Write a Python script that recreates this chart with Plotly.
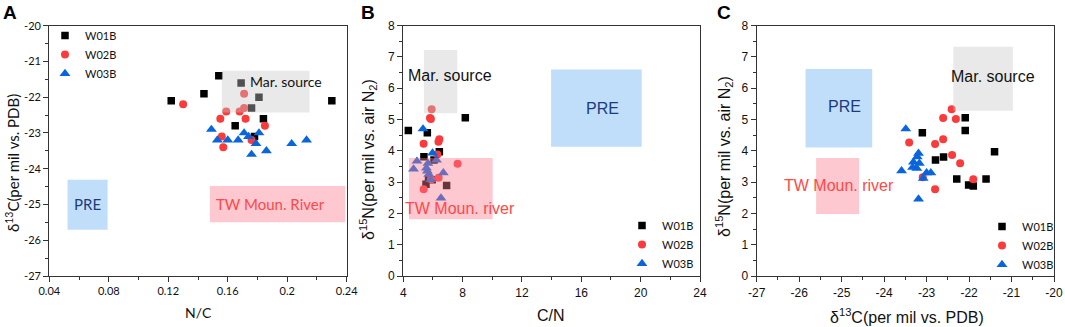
import plotly.graph_objects as go

# ---------------- data ----------------
# Panel A : N/C vs d13C
A_W01B_nc = [0.122, 0.144, 0.154, 0.169, 0.181, 0.176, 0.184, 0.165, 0.178, 0.230]
A_W01B_d13c = [-22.1, -21.9, -21.4, -21.6, -22.0, -22.3, -22.6, -22.8, -23.1, -22.1]
A_W02B_nc = [0.130, 0.171, 0.171, 0.168, 0.159, 0.155, 0.172, 0.185, 0.156, 0.176, 0.157]
A_W02B_d13c = [-22.2, -21.9, -22.3, -22.4, -22.4, -22.6, -22.6, -22.8, -23.1, -23.2, -23.4]
A_W03B_nc = [0.149, 0.153, 0.160, 0.167, 0.171, 0.174, 0.179, 0.181, 0.176, 0.186, 0.203, 0.213]
A_W03B_d13c = [-22.9, -23.2, -23.2, -23.2, -23.0, -23.1, -23.3, -23.0, -23.6, -23.5, -23.3, -23.2]

# Panel B : C/N vs d15N
B_W01B_cn = [8.18, 6.92, 6.43, 5.95, 5.53, 5.70, 5.39, 6.07, 5.62, 4.34]
B_W01B_d15n = [5.06, 2.89, 3.97, 3.08, 2.93, 3.10, 3.81, 3.71, 4.58, 4.65]
B_W02B_cn = [5.91, 5.80, 5.86, 5.37, 6.43, 6.37, 7.66, 6.30, 5.87, 5.37, 6.38]
B_W02B_d15n = [5.33, 5.05, 5.02, 4.23, 4.37, 4.29, 3.59, 3.88, 3.09, 2.77, 3.14]
B_W03B_cn = [5.33, 5.97, 6.24, 4.92, 4.69, 5.56, 5.62, 5.72, 5.86, 6.70, 6.54, 5.66]
B_W03B_d15n = [4.70, 3.93, 3.70, 3.67, 3.42, 3.45, 3.35, 3.25, 3.08, 3.30, 2.49, 3.60]

# Panel C : d13C vs d15N
C_W01B_d13c = [-23.10, -22.79, -22.60, -22.09, -22.09, -21.40, -22.29, -22.01, -21.90, -21.60]
C_W01B_d15n = [4.58, 3.71, 3.80, 5.06, 4.65, 3.97, 3.10, 2.91, 2.88, 3.10]
C_W02B_d13c = [-22.41, -22.61, -22.31, -23.41, -22.61, -22.80, -22.40, -22.21, -21.90, -22.80, -23.09]
C_W02B_d15n = [5.33, 5.05, 5.02, 4.27, 4.37, 4.22, 3.87, 3.60, 3.09, 2.77, 3.16]
C_W03B_d13c = [-23.49, -23.19, -23.22, -23.31, -23.17, -23.23, -23.33, -23.59, -23.00, -22.90, -23.08, -23.19]
C_W03B_d15n = [4.70, 3.92, 3.81, 3.64, 3.60, 3.44, 3.47, 3.36, 3.30, 3.30, 3.12, 2.46]

series_names = ["W01B", "W02B", "W03B"]

# source regions: (x0, x1, y0, y1)
A_regions = {"Mar": (0.156, 0.215, -22.43, -21.26), "PRE": (0.0523, 0.0792, -25.71, -24.31),
             "TW": (0.148, 0.239, -25.50, -24.48)}
B_regions = {"Mar": (5.39, 7.64, 5.20, 7.22), "PRE": (13.96, 20.07, 4.13, 6.60),
             "TW": (4.38, 10.02, 1.81, 3.77)}
C_regions = {"Mar": (-22.37, -20.97, 5.28, 7.33), "PRE": (-25.85, -24.28, 4.11, 6.62),
             "TW": (-25.60, -24.59, 1.98, 3.77)}

# tick labels
A_xticks = [0.04, 0.08, 0.12, 0.16, 0.2, 0.24]
A_xlabels = ["0.04", "0.08", "0.12", "0.16", "0.2", "0.24"]
A_yticks = [-27, -26, -25, -24, -23, -22, -21, -20]
A_ylabels = ["-27", "-26", "-25", "-24", "-23", "-22", "-21", "-20"]
B_xticks = [4, 8, 12, 16, 20, 24]
B_xlabels = ["4", "8", "12", "16", "20", "24"]
N_yticks = [0, 1, 2, 3, 4, 5, 6, 7, 8]
N_ylabels = ["0", "1", "2", "3", "4", "5", "6", "7", "8"]
C_xticks = [-27, -26, -25, -24, -23, -22, -21, -20]
C_xlabels = ["-27", "-26", "-25", "-24", "-23", "-22", "-21", "-20"]

# ---------------- styling ----------------
COL = {"W01B": "#000000", "W02B": "#fb3b3b", "W03B": "#0865dc"}
SYM = {"W01B": "square", "W02B": "circle", "W03B": "triangle-up"}
SIZE = {"W01B": 7.5, "W02B": 8, "W03B": 9.5}
FILL = {"Mar": "rgba(200,200,200,0.40)", "PRE": "rgba(130,190,245,0.50)",
        "TW": "rgba(250,125,140,0.42)"}
ARIAL = "Liberation Sans, Arial, sans-serif"
CALI = "Lato, Open Sans, sans-serif"

W, H = 1065, 327
ytop, ybot = 25.7, 276.0
ydom = [(H - ybot) / H, (H - ytop) / H]
doms = {"A": [49.3 / W, 346.7 / W], "B": [403.3 / W, 700.0 / W], "C": [756.7 / W, 1054.0 / W]}

fig = go.Figure()

panels = [
    ("A", "x", "y", "legend",
     [(A_W01B_nc, A_W01B_d13c), (A_W02B_nc, A_W02B_d13c), (A_W03B_nc, A_W03B_d13c)]),
    ("B", "x2", "y2", "legend2",
     [(B_W01B_cn, B_W01B_d15n), (B_W02B_cn, B_W02B_d15n), (B_W03B_cn, B_W03B_d15n)]),
    ("C", "x3", "y3", "legend3",
     [(C_W01B_d13c, C_W01B_d15n), (C_W02B_d13c, C_W02B_d15n), (C_W03B_d13c, C_W03B_d15n)]),
]
for key, xa, ya, lg, data in panels:
    for name, (xs, ys) in zip(series_names, data):
        fig.add_trace(go.Scatter(
            x=xs, y=ys, mode="markers", name=name, xaxis=xa, yaxis=ya, legend=lg,
            marker=dict(symbol=SYM[name], color=COL[name], size=SIZE[name], line=dict(width=0)),
            showlegend=True))

# region rectangles (drawn above the markers, semi-transparent)
shapes = []
for xa, ya, regs in [("x", "y", A_regions), ("x2", "y2", B_regions), ("x3", "y3", C_regions)]:
    for k, (x0, x1, y0, y1) in regs.items():
        shapes.append(dict(type="rect", xref=xa, yref=ya, x0=x0, x1=x1, y0=y0, y1=y1,
                           fillcolor=FILL[k], line=dict(width=0), layer="above"))

ann = []
def txt(text, x, y, xref, yref, size, color, family, **kw):
    d = dict(text=text, x=x, y=y, xref=xref, yref=yref, showarrow=False,
             xanchor="center", yanchor="middle",
             font=dict(size=size, color=color, family=family))
    d.update(kw)
    ann.append(d)

# region labels
txt("Mar. source", 0.1990, -21.57, "x", "y", 14, "#111111", CALI)
txt("PRE", 0.0658, -25.0, "x", "y", 15, "#1d3b7a", CALI)
txt("TW Moun. River", 0.1885, -25.0, "x", "y", 15, "#ff4848", CALI)
txt("Mar. source", 7.12, 6.42, "x2", "y2", 16, "#111111", ARIAL)
txt("PRE", 17.42, 5.34, "x2", "y2", 16, "#1d3b7a", ARIAL)
txt("TW Moun. river", 7.80, 2.15, "x2", "y2", 16, "#ff4848", ARIAL)
txt("Mar. source", -21.43, 6.39, "x3", "y3", 16, "#111111", ARIAL)
txt("PRE", -24.94, 5.43, "x3", "y3", 16, "#1d3b7a", ARIAL)
txt("TW Moun. river", -25.06, 2.90, "x3", "y3", 16, "#ff4848", ARIAL)

# panel letters
for letter, px in [("A", 10), ("B", 368), ("C", 724)]:
    txt("<b>%s</b>" % letter, px / W, 1 - 12 / H, "paper", "paper", 19, "#000000", ARIAL)

# axis titles
txt("N/C", 198 / W, 1 - 312 / H, "paper", "paper", 14, "#111111", CALI)
txt("C/N", 551 / W, 1 - 315 / H, "paper", "paper", 16, "#111111", ARIAL)
txt("δ<sup>13</sup>C(per mil vs. PDB)", 907 / W, 1 - 316 / H, "paper", "paper", 16, "#111111", ARIAL)
txt("δ<sup>13</sup>C(per mil vs. PDB)", 12 / W, 1 - 163 / H, "paper", "paper", 15, "#111111", CALI,
    textangle=-90)
txt("δ<sup>15</sup>N(per mil vs. air N<sub>2</sub>)", 368 / W, 1 - 160 / H, "paper", "paper", 16,
    "#111111", ARIAL, textangle=-90)
txt("δ<sup>15</sup>N(per mil vs. air N<sub>2</sub>)", 724 / W, 1 - 157 / H, "paper", "paper", 16,
    "#111111", ARIAL, textangle=-90)

def axis(dom, rng, tv, tt, minor_dt, font, anchor, size):
    return dict(domain=dom, range=rng, tickmode="array", tickvals=tv, ticktext=tt,
                showline=True, mirror=True, linecolor="#333333", linewidth=1.3,
                ticks="outside", ticklen=5, tickwidth=1.3, tickcolor="#333333",
                minor=dict(ticks="outside", ticklen=3, tickwidth=1.2, tickcolor="#333333",
                           tick0=rng[0], dtick=minor_dt, showgrid=False),
                showgrid=False, zeroline=False, anchor=anchor, automargin=False,
                tickfont=dict(family=font, size=size, color="#111111"))

leg_common = dict(xanchor="left", yanchor="top", bgcolor="rgba(0,0,0,0)",
                  font=dict(family=CALI, size=11, color="#111111"), itemwidth=30,
                  borderwidth=0)

fig.update_layout(
    width=W, height=H, margin=dict(l=0, r=0, t=0, b=0, pad=0, autoexpand=False),
    plot_bgcolor="white", paper_bgcolor="white",
    xaxis=axis(doms["A"], [0.04, 0.24], A_xticks, A_xlabels, 0.02, CALI, "y", 11),
    yaxis=axis(ydom, [-27, -20], A_yticks, A_ylabels, 0.5, CALI, "x", 11),
    xaxis2=axis(doms["B"], [4, 24], B_xticks, B_xlabels, 2, ARIAL, "y2", 12),
    yaxis2=axis(ydom, [0, 8], N_yticks, N_ylabels, 0.5, ARIAL, "x2", 12),
    xaxis3=axis(doms["C"], [-27, -20], C_xticks, C_xlabels, 0.5, ARIAL, "y3", 12),
    yaxis3=axis(ydom, [0, 8], N_yticks, N_ylabels, 0.5, ARIAL, "x3", 12),
    shapes=shapes, annotations=ann,
    legend=dict(x=45 / W, y=1 - 21 / H, **leg_common),
    legend2=dict(x=622 / W, y=1 - 211 / H, **leg_common),
    legend3=dict(x=982 / W, y=1 - 212 / H, **leg_common),
    showlegend=True,
)

fig.write_html("out.html", config={"displayModeBar": False},
               post_script="document.body.style.margin='0';")
